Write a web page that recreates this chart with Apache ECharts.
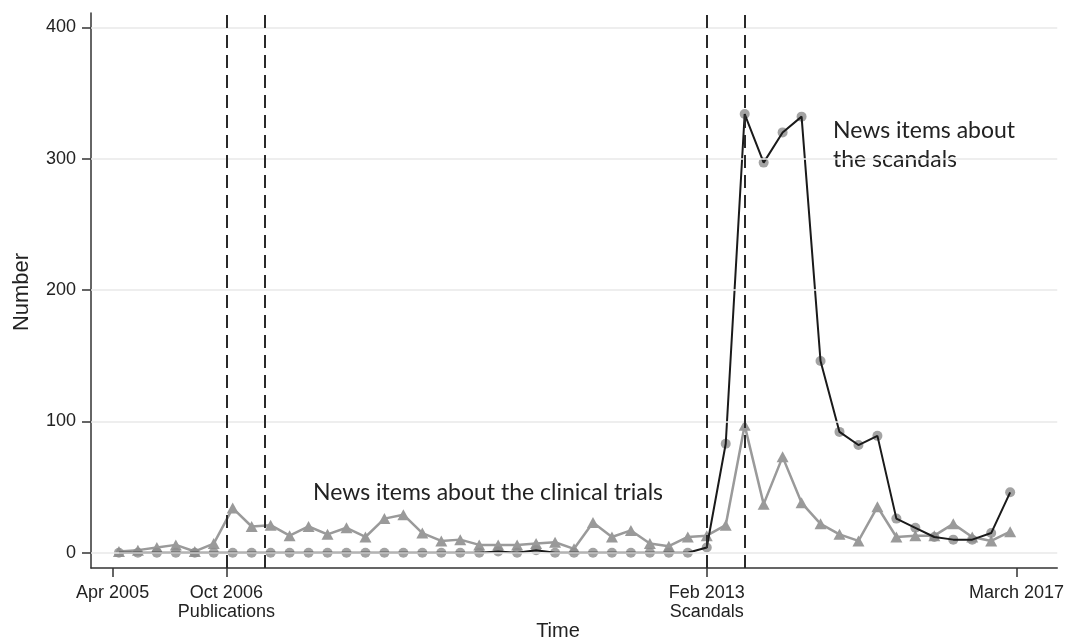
<!DOCTYPE html>
<html>
<head>
<meta charset="utf-8">
<script src="https://cdn.jsdelivr.net/npm/echarts@6/dist/echarts.min.js"></script>
<style>
html,body{margin:0;padding:0;background:#fff;}
#chart{width:1067px;height:641px;}
</style>
</head>
<body>
<div id="chart"></div>
<script>
// Months since April 2005 (mid-quarter positions)
const months = [1,4,7,10,13,16,19,22,25,28,31,34,37,40,43,46,49,52,55,58,61,64,67,70,73,76,79,82,85,88,91,94,97,100,103,106,109,112,115,118,121,124,127,130,133,136,139,142];
// News items about the clinical trials (grey triangles)
const trialsNews = [1,2,4,6,1,7,34,20,21,13,20,14,19,12,26,29,15,9,10,6,6,6,7,8,3,23,12,17,7,5,12,13,21,97,37,73,38,22,14,9,35,12,13,13,22,12,9,16];
// News items about the scandals (black line, grey circles)
const scandalNews = [0,0,0,0,0,0,0,0,0,0,0,0,0,0,0,0,0,0,0,0,1,0,2,0,0,0,0,0,0,0,0,4,83,334,297,320,332,146,92,82,89,26,19,12,10,10,15,46];
// Axis ticks
const xTickValues = [0,18,94,143];
const xTickLabels = ['Apr 2005','Oct 2006\nPublications','Feb 2013\nScandals','March 2017'];
const yTickValues = [0,100,200,300,400];
// Event lines (months since April 2005)
const eventMonths = [18,24,94,100];

const pts = (ys) => months.map((m,i) => [m, ys[i]]);
const chart = echarts.init(document.getElementById('chart'), null, {renderer:'canvas'});
const axisColor = '#333';
const labelFont = '"Liberation Sans", Arial, sans-serif';
const noteFont = 'Lato, sans-serif';

chart.setOption({
  animation:false,
  backgroundColor:'#fff',
  grid:{left:91,right:5,top:13,bottom:73},
  xAxis:{
    type:'value', min:-3.42, max:149.45,
    axisLine:{show:true,onZero:false,lineStyle:{color:axisColor,width:1.5}},
    axisTick:{show:true,customValues:xTickValues,length:9,lineStyle:{color:axisColor,width:1.5}},
    axisLabel:{show:true,customValues:xTickValues,margin:16,fontSize:18,lineHeight:19,color:'#222',fontFamily:labelFont,
      formatter:(v)=>{const i=xTickValues.indexOf(Math.round(v));return i>=0?xTickLabels[i]:'';}},
    splitLine:{show:false}
  },
  yAxis:{
    type:'value', min:-11.6, max:410.9,
    axisLine:{show:true,onZero:false,lineStyle:{color:axisColor,width:1.5}},
    axisTick:{show:true,customValues:yTickValues,length:9,lineStyle:{color:axisColor,width:1.5}},
    axisLabel:{show:true,customValues:yTickValues,margin:15,fontSize:18,color:'#222',fontFamily:labelFont},
    splitLine:{show:false}
  },
  graphic:[
    {type:'text',x:558,y:631,style:{text:'Time',fontSize:20,fill:'#222',fontFamily:labelFont,textAlign:'center',textVerticalAlign:'middle'}},
    {type:'text',x:22,y:292,rotation:Math.PI/2,style:{text:'Number',fontSize:22,fill:'#222',fontFamily:labelFont,textAlign:'center',textVerticalAlign:'middle'}},
    {type:'text',x:313,y:493,style:{text:'News items about the clinical trials',fontSize:23,fill:'#222',fontFamily:noteFont,textAlign:'left',textVerticalAlign:'middle'}},
    {type:'text',x:833,y:131,style:{text:'News items about',fontSize:23,fill:'#222',fontFamily:noteFont,textAlign:'left',textVerticalAlign:'middle'}},
    {type:'text',x:833,y:160,style:{text:'the scandals',fontSize:23,fill:'#222',fontFamily:noteFont,textAlign:'left',textVerticalAlign:'middle'}}
  ],
  series:[
    {type:'line',data:[],z:1,silent:true,
      markLine:{silent:true,symbol:'none',label:{show:false},animation:false,
        lineStyle:{color:'#e8e8e8',width:1.5,type:'solid'},
        data:yTickValues.map(v=>({yAxis:v}))}},
    {type:'line',data:pts(trialsNews),z:2,symbol:'triangle',symbolSize:[12,11],
      lineStyle:{color:'#9a9a9a',width:2.5},itemStyle:{color:'#9a9a9a'}},
    {type:'scatter',data:pts(scandalNews),z:3,symbol:'circle',symbolSize:10,itemStyle:{color:'#8c8c8c'}},
    {type:'line',data:pts(scandalNews),z:4,symbol:'none',lineStyle:{color:'#1a1a1a',width:2}},
    {type:'line',data:[],z:5,silent:true,
      markLine:{silent:true,symbol:'none',label:{show:false},animation:false,
        lineStyle:{color:'#2a2a2a',width:2,type:[13,7]},
        data:eventMonths.map(v=>({xAxis:v}))}}
  ]
});
</script>
</body>
</html>
